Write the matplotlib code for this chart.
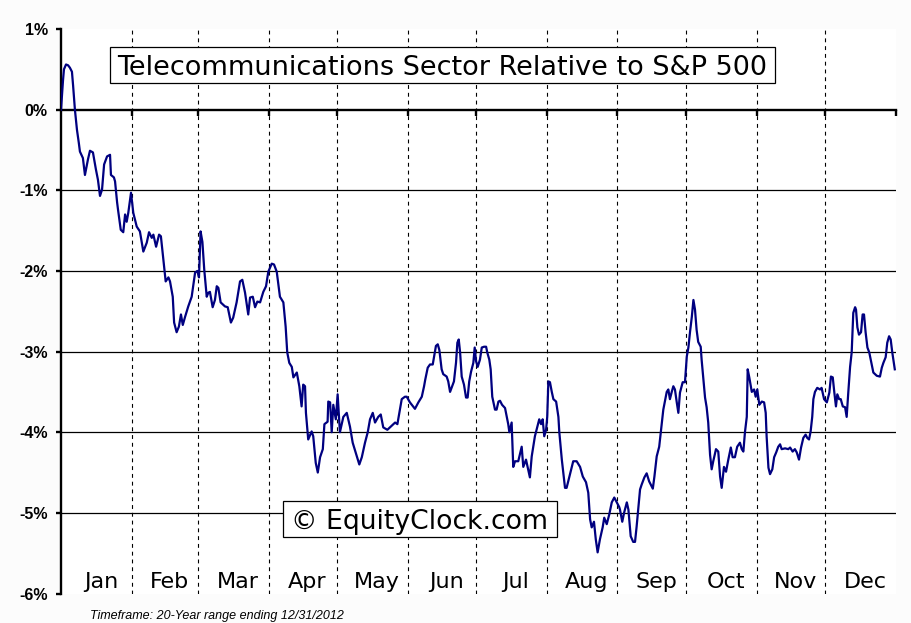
import matplotlib
matplotlib.use("Agg")
import matplotlib.pyplot as plt
from matplotlib.patches import Rectangle

# Day of year (leap-year calendar) and relative performance in percent
days = [0.0, 0.4, 0.9, 1.3, 2.2, 3.1, 3.9, 4.8, 5.3, 6.1, 7.0, 7.8, 8.3, 9.6, 10.5, 11.8, 12.7, 14.0,
        15.3, 16.2, 17.1, 18.0, 18.9, 20.2, 21.5, 21.9, 23.2, 23.7, 24.6, 25.0, 26.2, 27.3, 28.1, 28.8,
        29.5, 30.7, 31.7, 33.2, 34.6, 36.1, 37.6, 38.6, 39.8, 40.5, 41.7, 43.0, 43.8, 44.9, 45.9, 47.1,
        47.8, 49.0, 49.6, 50.7, 51.7, 52.6, 53.4, 54.4, 55.8, 57.3, 58.8, 59.8, 60.5, 61.2, 62.0, 62.8,
        63.9, 64.6, 65.3, 66.5, 67.5, 68.3, 69.0, 70.0, 71.9, 73.1, 74.5, 75.5, 77.0, 78.5, 79.5, 80.7,
        82.1, 82.9, 84.1, 85.1, 86.1, 87.3, 88.7, 89.9, 90.9, 92.4, 93.4, 94.6, 96.0, 97.5, 98.5, 99.2,
        100.1, 101.2, 101.9, 103.4, 104.5, 105.5, 106.2, 107.0, 107.4, 108.4, 109.9, 110.6, 111.7, 112.6,
        113.6, 114.8, 115.5, 116.9, 117.2, 118.0, 118.7, 119.4, 120.5, 121.3, 122.3, 123.8, 125.3, 126.7,
        127.9, 129.7, 130.8, 131.9, 133.3, 134.5, 135.5, 136.7, 137.7, 139.1, 140.2, 141.3, 143.1, 144.6,
        146.5, 147.5, 148.6, 149.4, 150.8, 151.6, 153.0, 155.2, 156.7, 158.2, 159.2, 159.7, 160.8, 161.8,
        163.0, 163.6, 164.4, 165.2, 165.9, 166.9, 167.6, 169.1, 169.8, 170.6, 171.8, 172.3, 173.2, 173.8,
        174.4, 175.0, 175.7, 176.7, 177.6, 178.3, 179.0, 179.8, 180.8, 181.4, 182.0, 182.7, 183.7, 184.5,
        185.5, 186.4, 186.9, 187.8, 188.4, 189.1, 190.3, 191.0, 191.8, 192.5, 193.4, 194.7, 196.1, 196.6,
        197.6, 198.3, 199.1, 200.5, 202.0, 202.7, 203.9, 204.6, 205.6, 206.4, 207.8, 208.8, 209.7, 210.5,
        211.2, 211.9, 212.7, 213.2, 213.7, 214.4, 215.2, 215.9, 217.1, 218.1, 218.5, 219.6, 221.0, 221.7,
        223.2, 224.6, 226.1, 227.6, 228.8, 230.2, 231.2, 232.0, 232.7, 233.7, 234.5, 235.3, 236.3, 237.5,
        238.2, 239.3, 240.4, 241.5, 242.6, 243.7, 244.8, 245.1, 246.1, 246.9, 248.1, 248.8, 249.8, 250.9,
        251.7, 252.4, 253.1, 253.9, 254.6, 255.8, 256.8, 257.9, 259.5, 260.2, 261.2, 262.3, 263.1, 263.8,
        264.1, 265.6, 266.3, 267.0, 267.8, 268.5, 269.2, 270.0, 270.7, 271.4, 272.6, 273.6, 274.4, 275.1,
        275.8, 276.6, 277.3, 278.0, 278.7, 279.4, 280.5, 280.9, 281.6, 282.4, 283.1, 283.8, 284.6, 285.3,
        286.0, 287.2, 288.2, 289.0, 289.7, 290.7, 291.6, 292.6, 293.7, 294.5, 295.5, 296.5, 297.7, 298.5,
        299.2, 299.9, 300.7, 301.1, 301.8, 302.9, 303.9, 304.6, 305.3, 306.2, 307.3, 308.3, 309.0, 309.4,
        310.2, 310.9, 311.9, 312.7, 313.6, 314.5, 315.3, 316.0, 317.5, 318.9, 319.7, 320.8, 321.8, 322.6,
        323.6, 324.5, 325.5, 326.5, 327.2, 328.0, 328.7, 329.4, 329.9, 330.6, 331.6, 332.8, 333.5, 334.6,
        335.8, 336.9, 337.6, 338.4, 339.1, 339.8, 340.4, 341.2, 341.9, 342.8, 343.8, 344.5, 345.2, 346.0,
        346.7, 347.4, 348.2, 348.6, 349.2, 349.9, 350.8, 351.5, 352.1, 352.8, 353.6, 354.4, 355.5, 356.2,
        357.7, 359.1, 359.9, 360.6, 361.6, 362.3, 363.1, 363.8, 364.5, 365.2, 365.6]

values = [0.00, 0.16, 0.37, 0.50, 0.56, 0.55, 0.52, 0.47, 0.30, 0.00, -0.25, -0.41, -0.52, -0.60, -0.81,
          -0.62, -0.51, -0.53, -0.74, -0.87, -1.07, -0.99, -0.68, -0.58, -0.56, -0.81, -0.84, -0.89, -1.15,
          -1.24, -1.49, -1.52, -1.30, -1.39, -1.28, -1.03, -1.28, -1.45, -1.51, -1.76, -1.65, -1.52, -1.59,
          -1.55, -1.70, -1.55, -1.57, -1.86, -2.13, -2.08, -2.13, -2.32, -2.64, -2.76, -2.69, -2.54, -2.67,
          -2.57, -2.44, -2.32, -2.02, -2.00, -2.08, -1.51, -1.64, -1.98, -2.32, -2.27, -2.26, -2.45, -2.36,
          -2.19, -2.21, -2.39, -2.44, -2.45, -2.64, -2.58, -2.39, -2.13, -2.11, -2.27, -2.54, -2.33, -2.32,
          -2.45, -2.38, -2.39, -2.26, -2.19, -2.01, -1.91, -1.92, -2.01, -2.32, -2.39, -2.69, -3.01, -3.14,
          -3.19, -3.32, -3.26, -3.43, -3.68, -3.41, -3.43, -3.76, -4.09, -3.99, -4.05, -4.38, -4.50, -4.31,
          -4.21, -3.90, -3.87, -3.62, -3.63, -4.00, -3.66, -3.84, -3.53, -4.00, -3.81, -3.76, -3.93, -4.13,
          -4.30, -4.40, -4.31, -4.13, -4.00, -3.84, -3.76, -3.88, -3.81, -3.78, -3.94, -3.97, -3.93, -3.88,
          -3.90, -3.72, -3.59, -3.56, -3.56, -3.63, -3.71, -3.63, -3.56, -3.43, -3.35, -3.20, -3.16, -3.16,
          -3.06, -2.93, -2.91, -2.98, -3.22, -3.28, -3.31, -3.37, -3.50, -3.41, -3.37, -3.14, -2.89, -2.85,
          -3.01, -3.31, -3.41, -3.57, -3.57, -3.37, -3.25, -3.14, -2.95, -3.12, -3.19, -3.10, -2.95, -2.94,
          -2.94, -3.01, -3.10, -3.22, -3.56, -3.72, -3.72, -3.62, -3.61, -3.66, -3.70, -3.90, -4.00, -3.88,
          -4.43, -4.36, -4.36, -4.18, -4.43, -4.34, -4.43, -4.56, -4.30, -4.05, -3.94, -3.84, -3.90, -3.84,
          -4.05, -3.97, -3.81, -3.37, -3.38, -3.50, -3.59, -3.62, -3.81, -4.00, -4.34, -4.69, -4.69, -4.52,
          -4.36, -4.36, -4.43, -4.55, -4.62, -4.75, -5.08, -5.18, -5.11, -5.33, -5.49, -5.33, -5.18, -5.06,
          -5.14, -5.02, -4.87, -4.81, -4.87, -4.93, -4.96, -5.11, -5.00, -4.87, -4.96, -5.29, -5.36, -5.36,
          -5.17, -4.96, -4.71, -4.65, -4.56, -4.51, -4.61, -4.70, -4.55, -4.30, -4.18, -3.97, -3.78, -3.72,
          -3.50, -3.47, -3.59, -3.50, -3.43, -3.47, -3.63, -3.76, -3.51, -3.38, -3.38, -3.06, -2.95, -2.76,
          -2.57, -2.36, -2.48, -2.73, -2.88, -2.94, -3.10, -3.32, -3.57, -3.69, -3.88, -4.28, -4.46, -4.36,
          -4.21, -4.24, -4.55, -4.69, -4.43, -4.49, -4.34, -4.19, -4.31, -4.31, -4.18, -4.13, -4.21, -4.24,
          -4.00, -3.81, -3.22, -3.32, -3.50, -3.47, -3.56, -3.47, -3.66, -3.62, -3.63, -3.76, -4.05, -4.44,
          -4.52, -4.46, -4.31, -4.25, -4.18, -4.15, -4.21, -4.20, -4.21, -4.19, -4.24, -4.21, -4.25, -4.34,
          -4.19, -4.07, -4.03, -4.07, -4.09, -3.99, -3.81, -3.59, -3.50, -3.45, -3.47, -3.45, -3.59, -3.63,
          -3.51, -3.31, -3.32, -3.51, -3.68, -3.53, -3.59, -3.59, -3.68, -3.69, -3.81, -3.51, -3.19, -3.01,
          -2.52, -2.45, -2.48, -2.70, -2.79, -2.76, -2.54, -2.54, -2.76, -2.95, -3.01, -3.16, -3.26, -3.30,
          -3.31, -3.20, -3.14, -3.07, -2.89, -2.81, -2.85, -3.01, -3.14, -3.22]

months = ["Jan", "Feb", "Mar", "Apr", "May", "Jun", "Jul", "Aug", "Sep", "Oct", "Nov", "Dec"]
month_ends = [31, 60, 91, 121, 152, 182, 213, 244, 274, 305, 335, 366]
pct_ticks = [1, 0, -1, -2, -3, -4, -5, -6]

fig = plt.figure(figsize=(9.11, 6.23), dpi=100, facecolor="#fcfcfc")
ax = fig.add_axes([61 / 911, 29.5 / 623, (895.7 - 61) / 911, (594 - 29.5) / 623])
ax.set_facecolor("white")
ax.set_xlim(0, 366)
ax.set_ylim(-6, 1)

# grid
for p in pct_ticks:
    if p not in (1, 0, -6):
        ax.axhline(p, color="black", lw=0.9, zorder=1)
for m in month_ends[:-1]:
    ax.axvline(m, color="black", lw=0.8, linestyle=(0, (3.5, 3.5)), zorder=1)

ax.plot(days, values, color="#000080", lw=1.6, zorder=3)

# axes
for s in ["top", "right"]:
    ax.spines[s].set_visible(False)
ax.spines["left"].set_linewidth(1.7)
ax.spines["bottom"].set_position(("data", 0))
ax.spines["bottom"].set_linewidth(1.7)
ax.spines["bottom"].set_zorder(2)

ax.set_xticks(month_ends)
ax.set_xticklabels([])
ax.tick_params(axis="x", direction="out", length=4, width=1.7)
ax.set_yticks(pct_ticks)
ax.set_yticklabels([f"{p}%" for p in pct_ticks], fontfamily="Liberation Sans",
                   fontweight="bold", fontsize=11.5)
ax.tick_params(axis="y", direction="out", length=3.5, width=1.7, pad=6)

starts = [0] + month_ends[:-1]
for name, a, b in zip(months, starts, month_ends):
    ax.text((a + b) / 2 + 2, -5.93, name, ha="center", va="baseline", fontsize=16,
            family="DejaVu Sans", zorder=4)

# title box
fig.patches.append(Rectangle((110 / 911, 1 - 83 / 623), 664.5 / 911, 36 / 623,
                             transform=fig.transFigure, facecolor="white",
                             edgecolor="black", lw=0.9, zorder=5))
fig.text(117 / 911, 1 - 75 / 623, "Telecommunications Sector Relative to S&P 500",
         fontsize=19.5, ha="left", va="baseline", zorder=6)

# watermark box
fig.patches.append(Rectangle((283.3 / 911, 1 - 537.3 / 623), 273.4 / 911, 36.3 / 623,
                             transform=fig.transFigure, facecolor="white",
                             edgecolor="black", lw=0.9, zorder=5))
fig.text(291 / 911, 1 - 529.3 / 623, "\u00a9 EquityClock.com",
         fontsize=19.2, ha="left", va="baseline", zorder=6)

fig.text(90 / 911, 1 - 618.5 / 623, "Timeframe: 20-Year range ending 12/31/2012",
         fontsize=9, family="Liberation Sans", style="italic", ha="left", va="baseline")

fig.savefig("out.png", dpi=100, facecolor=fig.get_facecolor())
